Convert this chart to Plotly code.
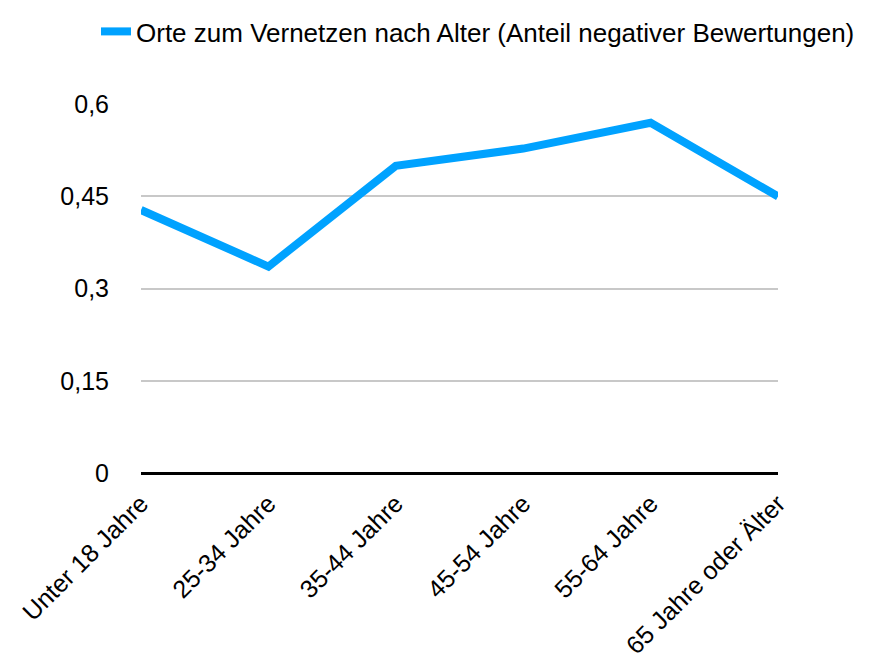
import plotly.graph_objects as go

# Age groups and share of negative ratings
age_groups = ["Unter 18 Jahre", "25-34 Jahre", "35-44 Jahre",
              "45-54 Jahre", "55-64 Jahre", "65 Jahre oder Älter"]
negative_share = [0.428, 0.336, 0.5, 0.528, 0.570, 0.450]
y_ticks = [0, 0.15, 0.3, 0.45, 0.6]
series_name = "Orte zum Vernetzen nach Alter (Anteil negativer Bewertungen)"

fig = go.Figure()
fig.add_trace(go.Scatter(
    x=age_groups,
    y=negative_share,
    mode="lines",
    name=series_name,
    line=dict(color="#00A2FF", width=8),
))

# the paper area covers the top and right so the legend sits inside it
fig.update_layout(
    width=886,
    height=663,
    margin=dict(l=60, r=0, t=0, b=198),
    paper_bgcolor="white",
    plot_bgcolor="white",
    separators=",.",
    font=dict(family="Liberation Sans, Arial, sans-serif", size=25, color="black"),
    showlegend=True,
    legend=dict(
        x=0.0339, y=1.0, xanchor="left", yanchor="top",
        font=dict(size=26),
        bgcolor="rgba(0,0,0,0)",
    ),
    xaxis=dict(
        domain=[0.0884, 0.8596],
        range=[0, 5],
        automargin=False,
        tickangle=-45,
        showgrid=False,
        zeroline=False,
        showline=False,
        ticks="",
        ticklabelstandoff=10,
        tickfont=dict(size=25),
    ),
    yaxis=dict(
        domain=[0, 0.7935],
        range=[0, 0.6005],
        automargin=False,
        tickmode="array",
        tickvals=y_ticks,
        showgrid=True,
        gridcolor="#C8C8C8",
        gridwidth=1.5,
        zeroline=True,
        zerolinecolor="black",
        zerolinewidth=3,
        ticks="",
        ticklabelstandoff=31,
        tickfont=dict(size=25),
    ),
)

fig.write_html("out.html")
